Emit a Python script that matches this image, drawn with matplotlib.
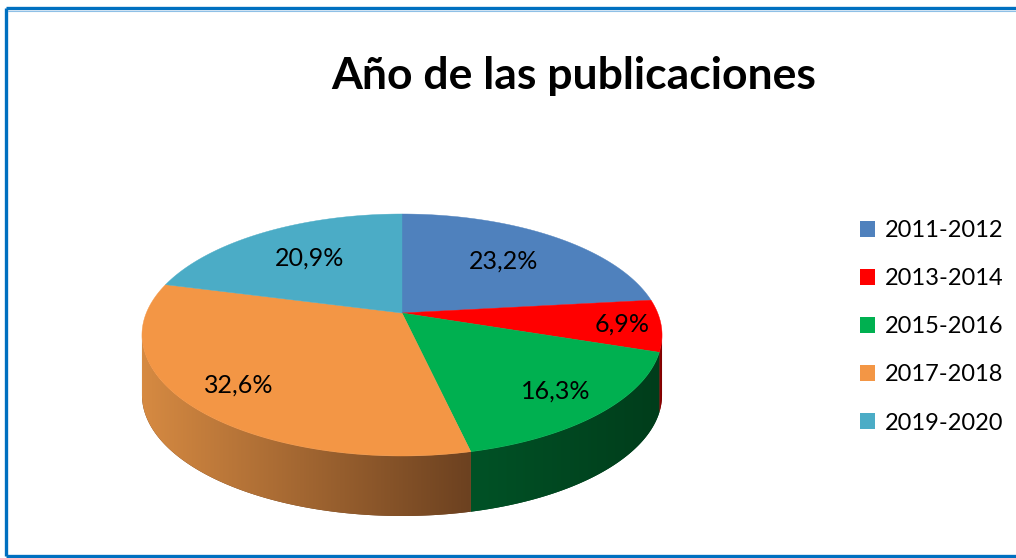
import numpy as np
import matplotlib
matplotlib.use("Agg")
import matplotlib.pyplot as plt
from matplotlib.patches import Polygon, Patch
from matplotlib.colors import LinearSegmentedColormap

plt.rcParams['font.family'] = ['Lato', 'DejaVu Sans']

# Data
categories = ["2011-2012", "2013-2014", "2015-2016", "2017-2018", "2019-2020"]
values = [23.2, 6.9, 16.3, 32.6, 20.9]
labels = ["23,2%", "6,9%", "16,3%", "32,6%", "20,9%"]
colors = ["#4f81bd", "#ff0000", "#00b050", "#f39645", "#4bacc6"]
side_colors = [("#3a5f8c", "#2c4a6e"), ("#a00000", "#7a0000"),
               ("#005226", "#003d1b"), ("#d68a42", "#6c4120"),
               ("#3a8196", "#2c6372")]
label_r = [0.65, 0.85, 0.8, 0.8, 0.65]

# Projection of the 3D disc (pixel coordinates, y down)
W, H = 1016, 558
cx, cy = 402, 313
A, B, k = 255.7, 117.0, 0.1818
depth = 60


def proj(theta, r=1.0):
    t = np.radians(theta)
    u = r * np.cos(t)
    v = r * np.sin(t)
    w = 1 + k * v
    return cx + A * u / w, cy - B * v / w


fig = plt.figure(figsize=(W / 100, H / 100), dpi=100)
ax = fig.add_axes([0, 0, 1, 1])
ax.set_xlim(0, W)
ax.set_ylim(H, 0)
ax.axis("off")

total = sum(values)
cum = np.concatenate([[0], np.cumsum(values)]) / total
starts = 90 - cum[:-1] * 360
ends = 90 - cum[1:] * 360

# visible front wall range (silhouette where x is extreme)
phi_r = -np.degrees(np.arcsin(k))
phi_l = -180 - phi_r

for i in range(len(values)):
    a1, a2 = starts[i], ends[i]  # a1 > a2
    for off in (0, -360, 360):
        s1 = min(a1 + off, phi_r)
        s2 = max(a2 + off, phi_l)
        if s1 <= s2:
            continue
        th = np.linspace(s1, s2, 120)
        xs, ys = proj(th)
        px = np.concatenate([xs, xs[::-1]])
        py = np.concatenate([ys, ys[::-1] + depth])
        poly = Polygon(np.column_stack([px, py]), closed=True,
                       facecolor=side_colors[i][1], edgecolor="none", zorder=1)
        ax.add_patch(poly)
        cmap = LinearSegmentedColormap.from_list("s%d" % i, side_colors[i])
        grad = np.linspace(0, 1, 256).reshape(1, -1)
        im = ax.imshow(grad, cmap=cmap, aspect="auto",
                       extent=[px.min(), px.max(), py.max(), py.min()], zorder=1.5)
        im.set_clip_path(poly)

# top face
for i in range(len(values)):
    th = np.linspace(starts[i], ends[i], 200)
    xs, ys = proj(th)
    px = np.concatenate([[cx], xs])
    py = np.concatenate([[cy], ys])
    ax.add_patch(Polygon(np.column_stack([px, py]), closed=True,
                         facecolor=colors[i], edgecolor=colors[i], lw=0.3, zorder=3))
    mid = (starts[i] + ends[i]) / 2
    lx, ly = proj(mid, label_r[i])
    ax.text(lx, ly, labels[i], ha="center", va="center", fontsize=18,
            color="black", zorder=5)

# title
fig.text(574 / W, 1 - 76 / H, "Año de las publicaciones", ha="center", va="center",
         fontsize=32, fontweight="bold", color="black")

# legend
handles = [Patch(facecolor=c, edgecolor="none") for c in colors]
fig.legend(handles, categories, loc="upper left", bbox_to_anchor=(860 / W, 1 - 220 / H),
           frameon=False, fontsize=17, handlelength=0.65, handleheight=0.65,
           handletextpad=0.4, labelspacing=1.15, borderpad=0, borderaxespad=0)

# border
bc = "#0070c0"
ax.plot([5.5, W + 5], [8, 8], color=bc, lw=2.4, solid_capstyle="butt", zorder=6)
ax.plot([5.5, 5.5], [8, 555.5], color=bc, lw=2.4, solid_capstyle="butt", zorder=6)
ax.plot([5.5, W + 5], [555.5, 555.5], color=bc, lw=2.4, solid_capstyle="butt", zorder=6)
ax.plot([8, W + 5], [10.5, 10.5], color="#8fc0e6", lw=0.8, zorder=6)

fig.savefig("out.png", dpi=100)
